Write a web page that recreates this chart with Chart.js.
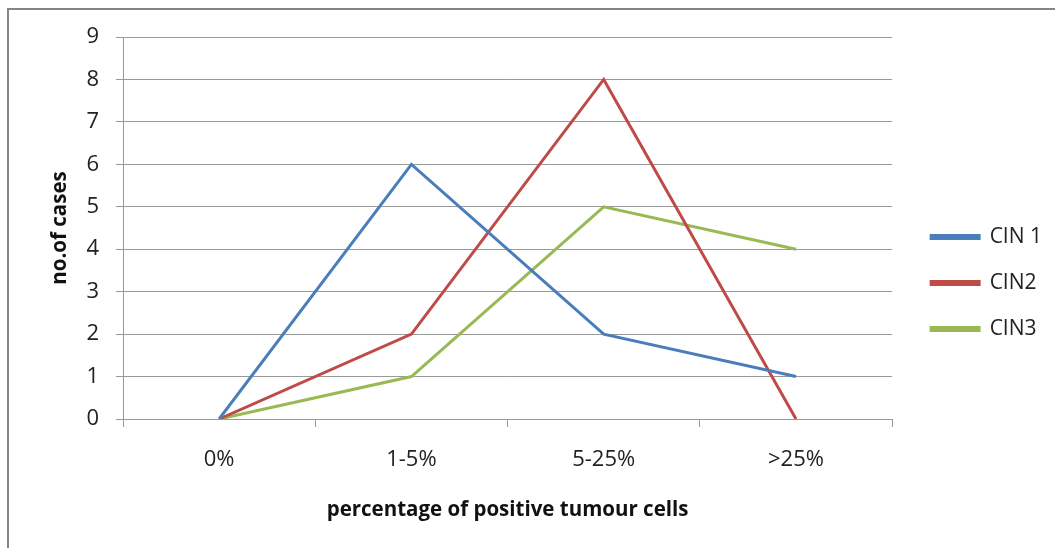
<!DOCTYPE html>
<html>
<head>
<meta charset="utf-8">
<script src="https://cdn.jsdelivr.net/npm/chart.js@4"></script>
<style>
  body { margin: 0; background: #fff; overflow: hidden; }
  #frame { position: absolute; left: 7px; top: 8px; width: 1100px; height: 600px; border: 2px solid #858585; }
  #wrap { position: absolute; left: 0; top: 0; width: 1080px; height: 566px; }
</style>
</head>
<body>
<div id="frame"></div>
<div id="wrap"><canvas id="chart"></canvas></div>
<script>
// categories and series
const categories = ["0%", "1-5%", "5-25%", ">25%"];
const cin1 = [0, 6, 2, 1];
const cin2 = [0, 2, 8, 0];
const cin3 = [0, 1, 5, 4];

const gridColor = "#9a9a9a";
const font = "Open Sans";

let ctx = document.getElementById("chart").getContext("2d");

function line(label, values, color) {
  return {
    label: label,
    data: values,
    borderColor: color,
    backgroundColor: color,
    borderWidth: 3,
    pointRadius: 0,
    tension: 0
  };
}

new Chart(ctx, {
  type: "line",
  data: {
    labels: categories,
    datasets: [
      line("CIN 1", cin1, "#4a7ebb"),
      line("CIN2", cin2, "#be4b48"),
      line("CIN3", cin3, "#98b954")
    ]
  },
  options: {
    responsive: true,
    maintainAspectRatio: false,
    animation: false,
    layout: { padding: { left: 30, top: 37, right: 28, bottom: 37 } },
    plugins: {
      tooltip: { enabled: false },
      legend: {
        position: "right",
        labels: {
          boxWidth: 48,
          boxHeight: 3,
          padding: 25,
          color: "#222",
          font: { family: font, size: 21 }
        }
      }
    },
    scales: {
      x: {
        offset: true,
        grid: { display: true, offset: true, drawOnChartArea: false, tickLength: 8, color: gridColor },
        border: { color: gridColor },
        ticks: { padding: 20, color: "#222", font: { family: font, size: 22 } },
        title: {
          display: true,
          text: "percentage of positive tumour cells",
          color: "#111",
          padding: { top: 4, bottom: 7 },
          font: { family: font, size: 20.5, weight: "bold" }
        }
      },
      y: {
        min: 0,
        max: 9,
        ticks: { stepSize: 1, padding: 17, color: "#222", font: { family: font, size: 22 } },
        grid: { color: gridColor, tickLength: 7 },
        border: { color: gridColor },
        title: {
          display: true,
          text: "no.of cases",
          color: "#111",
          padding: { top: 18, bottom: 0 },
          font: { family: font, size: 20.5, weight: "bold" }
        },
        afterFit: (scale) => { scale.width = 93; }
      },
      // empty spacer between the plot and the legend
      y2: {
        position: "right",
        display: true,
        grid: { display: false },
        border: { display: false },
        ticks: { display: false },
        afterFit: (scale) => { scale.width = 14; }
      }
    }
  }
});
</script>
</body>
</html>
